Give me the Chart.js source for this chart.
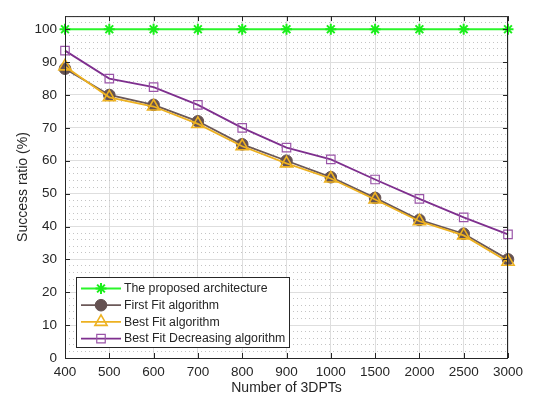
<!DOCTYPE html>
<html>
<head>
<meta charset="utf-8">
<script src="https://cdn.jsdelivr.net/npm/chart.js@4"></script>
<style>
  body { margin: 0; background: #fff; }
  #wrap { width: 534px; height: 401px; }
</style>
</head>
<body>
<div id="wrap"><canvas id="myChart" width="534" height="401"></canvas></div>
<script>
// values
const xLabels = ["400", "500", "600", "700", "800", "900", "1000", "1500", "2000", "2500", "3000"];
const proposed = [100, 100, 100, 100, 100, 100, 100, 100, 100, 100, 100];
const firstFit = [88, 80, 77, 72, 65, 60, 55, 48.7, 42, 37.8, 30];
const bestFit = [88.7, 79.3, 76.5, 71.2, 64.4, 59.2, 54.6, 48.2, 41.6, 37.3, 29.3];
const bestFitDec = [93.5, 85, 82.4, 77, 70, 64, 60.4, 54.3, 48.4, 42.8, 37.6];
const seriesNames = [
  "The proposed architecture",
  "First Fit algorithm",
  "Best Fit algorithm",
  "Best Fit Decreasing algorithm",
];

const FONT = "'Liberation Sans', Arial, sans-serif";
const TXT = "#262626";

// MATLAB style box, inward ticks and the legend in the lower left corner
const boxPlugin = {
  id: "boxPlugin",
  afterDraw(chart) {
    const { ctx, chartArea: a, scales } = chart;
    ctx.save();
    ctx.strokeStyle = TXT;
    ctx.lineWidth = 1;
    ctx.strokeRect(a.left + 0.5, a.top + 0.5, a.right - a.left - 1, a.bottom - a.top);

    ctx.beginPath();
    scales.y.ticks.forEach((t) => {
      if (t.value % 10 !== 0) return;
      const py = Math.round(scales.y.getPixelForValue(t.value)) + 0.5;
      ctx.moveTo(a.left, py); ctx.lineTo(a.left + 5, py);
      ctx.moveTo(a.right, py); ctx.lineTo(a.right - 5, py);
    });
    xLabels.forEach((_, i) => {
      const px = Math.round(scales.x.getPixelForValue(i)) + 0.5;
      ctx.moveTo(px, a.bottom); ctx.lineTo(px, a.bottom - 5);
      ctx.moveTo(px, a.top); ctx.lineTo(px, a.top + 5);
    });
    ctx.stroke();

    // legend
    const lx = a.left + 11, lw = 213, lh = 70;
    const ly = a.bottom - 11 - lh;
    ctx.fillStyle = "#fff";
    ctx.fillRect(lx, ly, lw, lh);
    ctx.strokeStyle = TXT;
    ctx.strokeRect(lx + 0.5, ly + 0.5, lw, lh);
    chart.data.datasets.forEach((ds, i) => {
      const cy = ly + 11.5 + i * 16.7;
      ctx.strokeStyle = ds.borderColor;
      ctx.lineWidth = ds.borderWidth;
      ctx.beginPath();
      ctx.moveTo(lx + 5, cy); ctx.lineTo(lx + 45, cy);
      ctx.stroke();
      ctx.fillStyle = ds.pointBackgroundColor;
      ctx.strokeStyle = ds.pointBorderColor;
      ctx.lineWidth = ds.pointBorderWidth;
      Chart.helpers.drawPoint(ctx, {
        pointStyle: ds.pointStyle, radius: ds.pointRadius, rotation: 0, borderWidth: ds.pointBorderWidth,
      }, lx + 25, cy);
      ctx.fillStyle = TXT;
      ctx.font = "12.3px " + FONT;
      ctx.textBaseline = "middle";
      ctx.textAlign = "left";
      ctx.fillText(ds.label, lx + 48, cy + 0.5);
    });
    ctx.restore();
  },
};

const data = {
  labels: xLabels,
  datasets: [
    {
      label: seriesNames[0], data: proposed, order: 3,
      borderColor: "#2af52a", borderWidth: 2,
      pointStyle: "star", pointRadius: 5.5,
      pointBackgroundColor: "#2af52a", pointBorderColor: "#1aee1a", pointBorderWidth: 2,
    },
    {
      label: seriesNames[1], data: firstFit, order: 2,
      borderColor: "#6b5858", borderWidth: 1.8,
      pointStyle: "circle", pointRadius: 5.8,
      pointBackgroundColor: "#655252", pointBorderColor: "#655252", pointBorderWidth: 1,
    },
    {
      label: seriesNames[2], data: bestFit, order: 1,
      borderColor: "#EDB120", borderWidth: 1.8,
      pointStyle: "triangle", pointRadius: 7,
      pointBackgroundColor: "rgba(0,0,0,0)", pointBorderColor: "#EDB120", pointBorderWidth: 1.6,
    },
    {
      label: seriesNames[3], data: bestFitDec, order: 0,
      borderColor: "#7E2F8E", borderWidth: 1.8,
      pointStyle: "rect", pointRadius: 6,
      pointBackgroundColor: "rgba(0,0,0,0)", pointBorderColor: "#9a55a8", pointBorderWidth: 1.2,
    },
  ],
};

const config = {
  type: "line",
  data,
  options: {
    responsive: false,
    animation: false,
    layout: { padding: { left: 0, right: 26, top: 8, bottom: 0 } },
    plugins: { legend: { display: false }, tooltip: { enabled: false } },
    elements: { line: { tension: 0 } },
    scales: {
      x: {
        type: "category",
        offset: false,
        afterFit: (s) => { s.height = 43; },
        grid: { color: "#dedede", lineWidth: 1, drawTicks: false },
        border: { display: false },
        ticks: { color: TXT, font: { family: FONT, size: 13.5 }, padding: 6, maxRotation: 0, autoSkip: false },
        title: { display: true, text: "Number of 3DPTs", color: TXT, font: { family: FONT, size: 14 }, padding: { top: 8 } },
      },
      y: {
        type: "linear",
        min: 0,
        max: 104,
        afterFit: (s) => { s.width = 65; },
        afterBuildTicks: (s) => {
          const t = [];
          for (let v = 0; v <= 104; v += 2) t.push({ value: v });
          s.ticks = t;
        },
        grid: {
          drawTicks: false,
          color: (c) => (c.tick && c.tick.value % 10 === 0 ? "#dedede" : "#c4c4c4"),
          lineWidth: 1,
        },
        border: {
          display: false,
          dash: (c) => (c.tick && c.tick.value % 10 === 0 ? [] : [1, 3]),
        },
        ticks: {
          color: TXT,
          font: { family: FONT, size: 13.5 },
          padding: 8,
          autoSkip: false,
          callback: (v) => (v % 10 === 0 && v <= 100 ? String(v) : ""),
        },
        title: { display: true, text: "Success ratio (%)", color: TXT, font: { family: FONT, size: 14 }, padding: { top: 15, bottom: 0 } },
      },
    },
  },
  plugins: [boxPlugin],
};

const chart = new Chart(document.getElementById("myChart"), config);
</script>
</body>
</html>
